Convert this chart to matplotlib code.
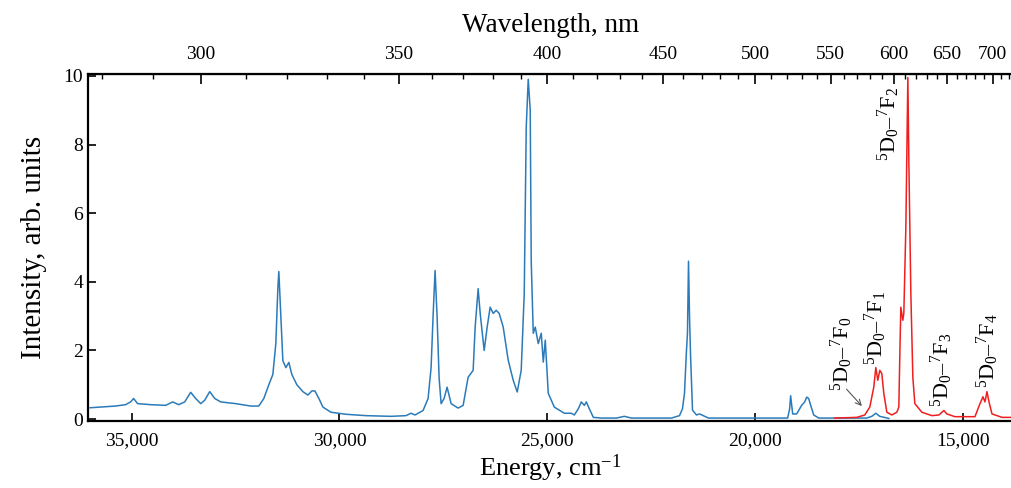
import matplotlib
matplotlib.use("Agg")
import matplotlib.pyplot as plt
from matplotlib.ticker import MultipleLocator, FixedLocator, FuncFormatter
import numpy as np

plt.rcParams['font.family'] = ['Liberation Serif', 'DejaVu Serif']
plt.rcParams['mathtext.fontset'] = 'custom'
plt.rcParams['mathtext.rm'] = 'Liberation Serif'
plt.rcParams['mathtext.it'] = 'Liberation Serif:italic'

# excitation spectrum (blue), energy in cm-1
exc_energy = [36000, 35747, 35386, 35145, 35024, 34952, 34855, 34542, 34181, 34012,
              33867, 33723, 33578, 33458, 33337, 33241, 33120, 33000, 32855, 32494,
              32133, 31940, 31819, 31699, 31602, 31530, 31482, 31458, 31410, 31361,
              31289, 31217, 31145, 31024, 30880, 30759, 30663, 30590, 30494, 30398,
              30205, 29843, 29361, 28759, 28398, 28277, 28181, 27988, 27867, 27795,
              27747, 27699, 27651, 27602, 27554, 27482, 27410, 27313, 27145, 27024,
              26904, 26783, 26735, 26663, 26614, 26518, 26446, 26374, 26301, 26229,
              26157, 26060, 25940, 25819, 25723, 25627, 25554, 25506, 25458, 25410,
              25386, 25337, 25289, 25217, 25145, 25096, 25048, 24976, 24831, 24590,
              24422, 24349, 24253, 24181, 24108, 24060, 23988, 23892, 23699, 23337,
              23145, 22976, 22012, 21819, 21747, 21699, 21651, 21627, 21602, 21578,
              21554, 21506, 21410, 21337, 21120, 19217, 19169, 19145, 19096, 19000,
              18880, 18807, 18759, 18711, 18663, 18590, 18470, 17313, 17193, 17096,
              17000, 16783]
exc_intensity = [0.33, 0.35, 0.38, 0.42, 0.5, 0.6, 0.45, 0.42, 0.4, 0.5,
                 0.42, 0.5, 0.78, 0.6, 0.45, 0.55, 0.8, 0.6, 0.5, 0.45,
                 0.38, 0.38, 0.6, 1.0, 1.3, 2.2, 3.8, 4.3, 3.0, 1.7,
                 1.5, 1.65, 1.3, 1.0, 0.8, 0.7, 0.82, 0.82, 0.6, 0.35,
                 0.2, 0.14, 0.1, 0.08, 0.1, 0.17, 0.12, 0.25, 0.6, 1.5,
                 3.0, 4.33, 3.0, 1.2, 0.45, 0.6, 0.93, 0.45, 0.32, 0.4,
                 1.22, 1.42, 2.68, 3.8, 3.08, 2.0, 2.68, 3.26, 3.08, 3.17,
                 3.08, 2.68, 1.72, 1.13, 0.79, 1.42, 3.66, 8.5, 9.9, 9.0,
                 4.6, 2.5, 2.68, 2.2, 2.5, 1.66, 2.3, 0.75, 0.35, 0.17,
                 0.17, 0.12, 0.3, 0.5, 0.4, 0.5, 0.3, 0.05, 0.03, 0.03,
                 0.08, 0.03, 0.03, 0.1, 0.3, 0.75, 2.0, 2.5, 4.6, 3.0,
                 1.9, 0.26, 0.12, 0.15, 0.03, 0.03, 0.3, 0.68, 0.15, 0.15,
                 0.4, 0.5, 0.64, 0.6, 0.4, 0.12, 0.03, 0.03, 0.08, 0.17,
                 0.08, 0.02]

# emission spectrum (red)
em_energy = [18084, 17554, 17361, 17241, 17145, 17096, 17048, 17000, 16952, 16904,
             16831, 16711, 16590, 16542, 16518, 16494, 16446, 16422, 16373, 16325,
             16301, 16253, 16205, 16157, 15988, 15747, 15578, 15458, 15386, 15193,
             14711, 14590, 14518, 14470, 14422, 14373, 14301, 14060, 13795]
em_intensity = [0.03, 0.05, 0.12, 0.35, 0.93, 1.5, 1.13, 1.42, 1.33, 0.75,
                0.2, 0.12, 0.2, 0.35, 1.9, 3.26, 2.88, 3.08, 5.6, 9.95,
                7.5, 3.66, 1.22, 0.45, 0.2, 0.1, 0.12, 0.25, 0.15, 0.07,
                0.07, 0.45, 0.65, 0.5, 0.8, 0.5, 0.15, 0.05, 0.05]

labels = [r'$^5$D$_0$–$^7$F$_0$', r'$^5$D$_0$–$^7$F$_1$', r'$^5$D$_0$–$^7$F$_2$',
          r'$^5$D$_0$–$^7$F$_3$', r'$^5$D$_0$–$^7$F$_4$']
label_x = [17916, 17096, 16783, 15506, 14398]
label_y = [1.89, 2.65, 8.6, 1.42, 2.0]

wl_ticks = [300, 350, 400, 450, 500, 550, 600, 650, 700]

fig = plt.figure(figsize=(10.11, 4.88), dpi=100)
ax = fig.add_axes([0.087, 0.137, 0.915, 0.711])

ax.plot(exc_energy, exc_intensity, color='#2b7bba', lw=1.1)
ax.plot(em_energy, em_intensity, color='#f01e1e', lw=1.1)

ax.set_xlim(36050, 13795)
ax.set_ylim(-0.06, 10.05)

ax.xaxis.set_major_locator(MultipleLocator(5000))
ax.xaxis.set_major_formatter(FuncFormatter(lambda v, p: f'{v:,.0f}'))
ax.yaxis.set_major_locator(MultipleLocator(2))
ax.tick_params(direction='in', length=6, width=1.2, labelsize=14)
ax.tick_params(axis='x', pad=8)
for s in ax.spines.values():
    s.set_linewidth(1.6)

ax.set_xlabel(r'Energy, cm$^{-1}$', fontsize=19, labelpad=2)
ax.set_ylabel('Intensity, arb. units', fontsize=21, labelpad=12)

# wavelength axis on top
def e2w(x):
    x = np.asarray(x, dtype=float)
    return 1e7 / np.where(x == 0, 1e-9, x)

top = ax.secondary_xaxis('top', functions=(e2w, e2w))
top.xaxis.set_major_locator(FixedLocator(wl_ticks))
top.xaxis.set_minor_locator(FixedLocator(list(range(280, 730, 10))))
top.xaxis.set_major_formatter(FuncFormatter(lambda v, p: f'{v:.0f}'))
top.tick_params(which='major', direction='in', length=7, width=1.2, labelsize=14, pad=8)
top.tick_params(which='minor', direction='in', length=3.5, width=1.0)
top.set_xlabel('Wavelength, nm', fontsize=19.5, labelpad=10)

for txt, lx, ly in zip(labels, label_x, label_y):
    ax.text(lx, ly, txt, rotation=90, ha='center', va='center', fontsize=16)

ax.annotate('', xy=(17386, 0.32), xytext=(17844, 0.93),
            arrowprops=dict(arrowstyle='->', color='#555555', lw=0.8))

fig.savefig('out.png', dpi=100)
